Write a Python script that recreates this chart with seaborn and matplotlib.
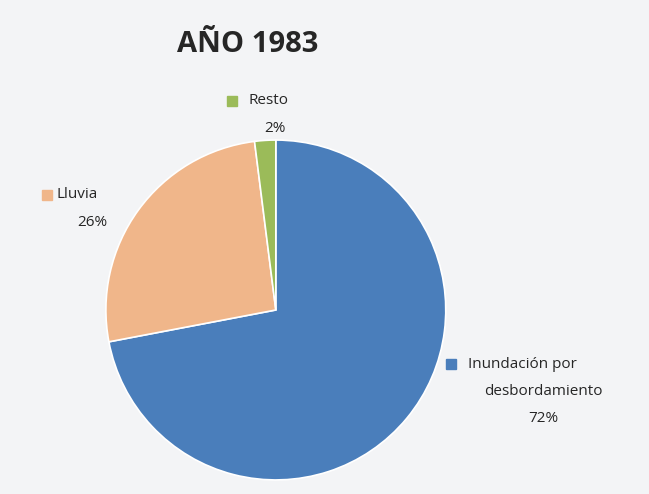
import matplotlib
matplotlib.use("Agg")
import matplotlib.pyplot as plt
import seaborn as sns

sns.set_theme(style="white")
plt.rcParams['font.family'] = ['Open Sans', 'DejaVu Sans']

categories = ["Inundación por\ndesbordamiento", "Lluvia", "Resto"]
values = [72, 26, 2]
colors = sns.color_palette(["#4A7EBB", "#F0B68A", "#9BBB59"])
title = "AÑO 1983"

bg = "#F3F4F6"
fig = plt.figure(figsize=(6.49, 4.94), dpi=100, facecolor=bg)
ax = fig.add_axes([0.163, 0.0285, 0.524, 0.688])
ax.set_facecolor(bg)
ax.pie(values, colors=colors, startangle=90, counterclock=False,
       wedgeprops=dict(edgecolor="white", linewidth=1.2))
ax.set_xlim(-1, 1); ax.set_ylim(-1, 1)
ax.axis("off")

fig.text(248/649, 1-45/494, title, fontsize=21, fontweight="bold", ha="center", va="center")

def lab(mx, my, tx, lines, cx, color, pct):
    fig.patches.append(plt.Rectangle((mx/649 - 5/649, 1-my/494 - 5/494), 10/649, 10/494,
                                     transform=fig.transFigure, color=color, figure=fig))
    fig.text(tx/649, 1-my/494, lines[0], fontsize=11, ha="left", va="center")
    y = my
    for l in lines[1:]:
        y += 27.5
        fig.text(cx/649, 1-y/494, l, fontsize=11, ha="center", va="center")
    y += 27.5
    fig.text(cx/649, 1-y/494, pct, fontsize=11, ha="center", va="center")

lab(451, 364, 468, categories[0].split("\n"), 543, colors[0], f"{values[0]}%")
lab(47, 195, 56, categories[1].split("\n"), 92, colors[1], f"{values[1]}%")
lab(232, 101, 248, categories[2].split("\n"), 275, colors[2], f"{values[2]}%")

fig.savefig("out.png", dpi=100, facecolor=bg)
